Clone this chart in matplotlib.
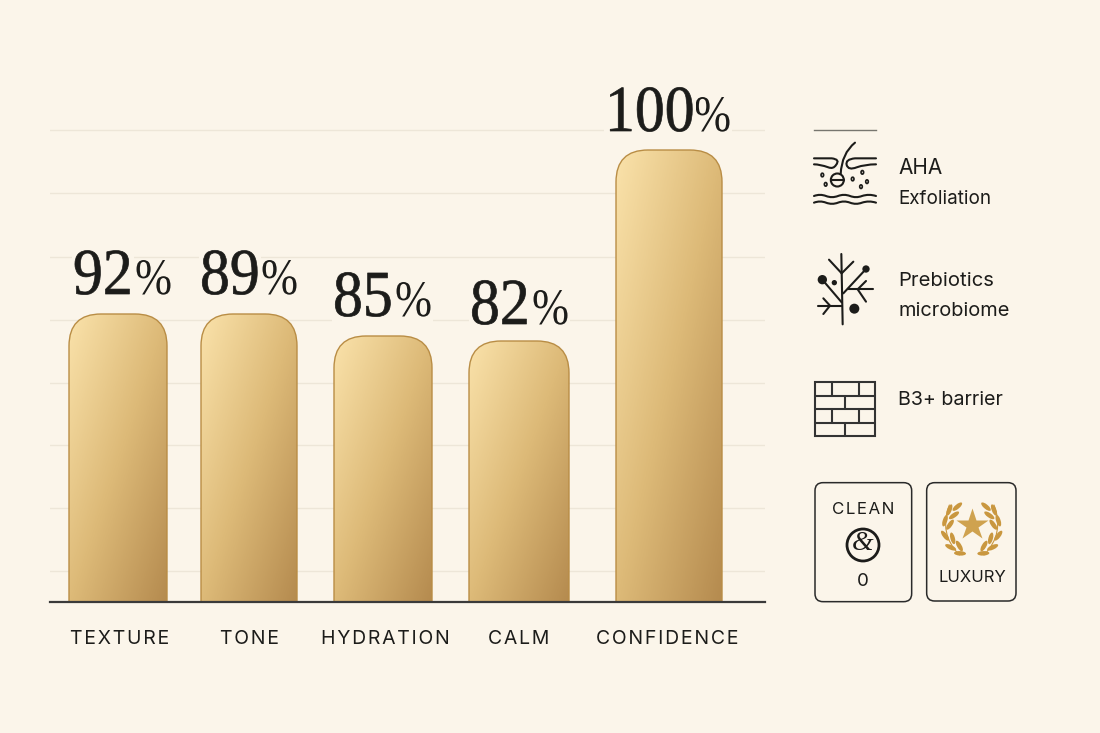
import numpy as np
import matplotlib
matplotlib.use('Agg')
import matplotlib.pyplot as plt
import matplotlib.patheffects as pe
from matplotlib.colors import LinearSegmentedColormap
from matplotlib.patches import FancyBboxPatch, Ellipse, Circle, Rectangle, PathPatch
from matplotlib.path import Path
from matplotlib.transforms import Affine2D

# Data
categories = ['TEXTURE', 'TONE', 'HYDRATION', 'CALM', 'CONFIDENCE']
value_labels = ['92', '89', '85', '82', '100']
bar_heights = [288, 288, 266, 261, 452]   # drawn height, not in step with the labels
grid_levels = [31, 94, 157, 219, 282, 345, 409, 472]
notes = ['AHA', 'Exfoliation', 'Prebiotics', 'microbiome', 'B3+ barrier']

# Layout, in pixels of the 1100x733 picture
bar_left = [69, 201, 334, 469, 616]
bar_width = [98, 96, 98, 100, 106]
label_x = [120, 250, 385, 519, 667]
num_x = [73, 200, 333, 470, 605]
pct_x = [135, 261, 395, 532, 694]
num_gap = [20, 20, 20, 17, 19]
note_y = [168, 199, 281, 311, 400]
note_size = [15, 13.6, 14.6, 14.4, 14.2]

bg = '#FBF5EA'
ink = '#1c1c1a'
gold = '#C9973F'
sans = ['Inter', 'DejaVu Sans']
serif = 'Liberation Serif'
hair = '\u200a'


def spaced(s):
    return hair.join(s)


class Tall(pe.AbstractPathEffect):
    # the reference serif is narrower than Liberation, so stretch glyphs upward
    def __init__(self, sy, weight=0.0):
        self.sy = sy
        self.weight = weight

    def draw_path(self, renderer, gc, tpath, affine, rgbFace=None):
        gc0 = renderer.new_gc()
        gc0.copy_properties(gc)
        gc0.set_linewidth(self.weight)
        gc0.set_foreground(ink)
        renderer.draw_path(gc0, tpath, Affine2D().scale(1, self.sy) + affine, rgbFace)
        gc0.restore()


fig = plt.figure(figsize=(11, 7.33), dpi=100, facecolor=bg)
ax = fig.add_axes([50 / 1100, (733 - 602) / 733, 715 / 1100, 502 / 733])
ax.set_facecolor('none')
ax.set_xlim(50, 765)
ax.set_ylim(0, 502)
ax.set_autoscale_on(False)
for s in ax.spines.values():
    s.set_visible(False)

# Grid and baseline
for g in grid_levels:
    ax.axhline(g, color='#EDE6D8', lw=1, zorder=1)
ax.axhline(0, color='#3a3a3a', lw=1.6, zorder=6, clip_on=False)

# Bars with a diagonal gold gradient
cmap = LinearSegmentedColormap.from_list('gold', ['#FAE2AA', '#DDBA78', '#B58B4F'])
for left, w, h in zip(bar_left, bar_width, bar_heights):
    xx, yy = np.meshgrid(np.linspace(0, 1, 60), np.linspace(0, 1, 120))
    box = FancyBboxPatch((left, -40), w, h + 40, boxstyle='round,pad=0,rounding_size=32',
                         fc='none', ec='#B98D45', lw=1, zorder=5)
    ax.add_patch(box)
    im = ax.imshow(0.5 * xx + 0.5 * yy, cmap=cmap, vmin=0, vmax=1, aspect='auto',
                   extent=(left, left + w, 0, h), origin='upper', zorder=4)
    im.set_clip_path(box)

# Value labels: digits and a lighter percent sign
for lab, h, nx, px, gap in zip(value_labels, bar_heights, num_x, pct_x, num_gap):
    ax.text(px, h + gap, '%', family=serif, fontsize=32, color=ink, ha='left', va='baseline',
            zorder=2, bbox=dict(fc=bg, ec='none', pad=1), path_effects=[Tall(1.15)])
    ax.text(nx, h + gap, lab, family=serif, fontsize=43, color=ink, ha='left', va='baseline',
            zorder=3, bbox=dict(fc=bg, ec='none', pad=1), path_effects=[Tall(1.1, 0.5)])

ax.set_yticks([])
ax.set_xticks(label_x)
ax.set_xticklabels([spaced(c) for c in categories], family=sans, fontsize=14, color=ink)
ax.tick_params(axis='x', length=0, pad=20)

# Overlay in picture pixels for the right hand panel
ov = fig.add_axes([0, 0, 1, 1])
ov.set_xlim(0, 1100)
ov.set_ylim(733, 0)
ov.axis('off')
ov.patch.set_alpha(0)

lw = 1.5


def seg(pts, ox, oy, **kw):
    xs = [ox + p[0] / 3 for p in pts]
    ys = [oy + p[1] / 3 for p in pts]
    ov.plot(xs, ys, color=kw.get('color', ink), lw=kw.get('lw', lw), solid_capstyle='round')


def curve(pts, ox, oy, color=ink, lw=lw):
    # pts: start, then control/end pairs (quadratic)
    v = [(ox + p[0] / 3, oy + p[1] / 3) for p in pts]
    codes = [Path.MOVETO] + [Path.CURVE3] * (len(v) - 1)
    ov.add_patch(PathPatch(Path(v, codes), fc='none', ec=color, lw=lw, capstyle='round'))


ov.plot([814, 876], [130, 130], color='#77766f', lw=1)

# Skin / follicle icon (zoom coords, origin 800,120)
ox, oy = 800, 120
curve([(42, 115), (85, 115), (95, 115), (122, 118), (108, 135), (100, 148), (85, 142), (60, 133), (42, 133)], ox, oy)
curve([(228, 115), (190, 115), (165, 115), (135, 118), (140, 135), (145, 152), (170, 142), (195, 133), (228, 133)], ox, oy)
curve([(165, 68), (125, 100), (122, 162)], ox, oy)
ov.add_patch(Circle((ox + 112 / 3, oy + 180 / 3), 6.5, fc='none', ec=ink, lw=lw))
seg([(92, 180), (132, 180)], ox, oy)
for dx, dy in [(67, 165), (77, 193), (187, 157), (158, 177), (201, 185), (183, 200)]:
    ov.add_patch(Ellipse((ox + dx / 3, oy + dy / 3), 2.6, 3.6, fc='none', ec=ink, lw=1.2))
for wy in (228, 248):
    curve([(42, wy), (60, wy - 7), (78, wy), (96, wy + 7), (114, wy), (132, wy - 7), (150, wy),
           (168, wy + 7), (186, wy), (207, wy - 7), (228, wy)], ox, oy)

# Tree icon (zoom coords, origin 805,245)
ox, oy = 805, 245
for pts in [[(109, 27), (113, 238)], [(72, 44), (110, 85)], [(145, 50), (110, 85)],
            [(183, 72), (115, 145)], [(52, 104), (110, 172)], [(130, 133), (205, 133)],
            [(183, 108), (158, 133), (183, 170)], [(40, 182), (110, 182)],
            [(55, 160), (75, 182), (55, 207)]]:
    seg(pts, ox, oy)
for dx, dy, r in [(52, 104, 14), (183, 72, 11), (88, 113, 8), (148, 191, 15)]:
    ov.add_patch(Circle((ox + dx / 3, oy + dy / 3), r / 3, fc=ink, ec='none'))

# Brick icon (zoom coords, origin 800,370)
ox, oy = 800, 370
ov.add_patch(Rectangle((ox + 45 / 3, oy + 37 / 3), 60, 161 / 3, fc='none', ec='#333', lw=1.5))
for hy in (77, 118, 158):
    seg([(45, hy), (225, hy)], ox, oy, color='#333')
for vx, y0, y1 in [(95, 37, 77), (178, 37, 77), (135, 77, 118), (95, 118, 158), (178, 118, 158), (135, 158, 198)]:
    seg([(vx, y0), (vx, y1)], ox, oy, color='#333')

# Badges
for x0, x1, y0, y1 in [(45, 335, 338, 695), (380, 648, 338, 693)]:
    ov.add_patch(FancyBboxPatch((ox + x0 / 3, oy + y0 / 3), (x1 - x0) / 3, (y1 - y0) / 3,
                                boxstyle='round,pad=0,rounding_size=8', fc='none', ec='#2a2a2a', lw=1.1))
ov.text(863, 509, spaced('CLEAN'), family=sans, fontsize=12.2, color=ink, ha='center', va='center')
ov.add_patch(Circle((863, 545), 16, fc='none', ec=ink, lw=2))
ov.text(863, 544, '&', family=serif, style='italic', fontsize=20, color=ink, ha='center', va='center')
ov.text(863, 581, '0', family=sans, fontsize=13.5, color=ink, ha='center', va='center')
ov.text(972, 578, 'LUXURY', family=sans, fontsize=12, color=ink, ha='center', va='center')

# Laurel and star (zoom coords, origin 930,490)
ox, oy = 930, 490
ov.plot([ox + 125 / 3], [oy + 105 / 3], marker='*', ms=24, color='#CFA24F', mec='none')
curve([(88, 195), (25, 130), (58, 45)], ox, oy, color=gold, lw=0.8)
curve([(162, 195), (225, 130), (192, 45)], ox, oy, color=gold, lw=0.8)
leaves = [(58, 60, -68), (82, 50, -40), (45, 92, -72), (72, 76, -35), (60, 104, -55),
          (45, 137, 53), (68, 145, 75), (62, 172, 25), (88, 168, 60), (90, 190, 3)]
for lx, ly, ang in leaves:
    for x, a in ((lx, ang), (250 - lx, -ang)):
        ov.add_patch(Ellipse((ox + x / 3, oy + ly / 3), 12, 4.5, angle=a, fc=gold, ec='none'))

# Side notes
for txt, y, sz in zip(notes, note_y, note_size):
    ov.text(898, y, txt, family=sans, fontsize=sz, color=ink, ha='left', va='center')

fig.savefig('out.png', dpi=100, facecolor=bg)
